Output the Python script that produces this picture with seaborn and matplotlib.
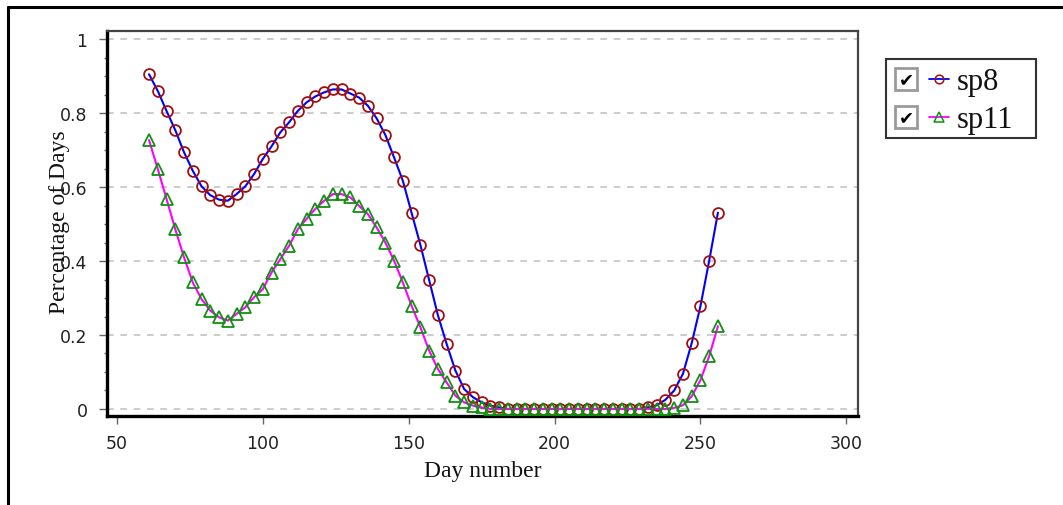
import numpy as np
import pandas as pd
import matplotlib
matplotlib.use("Agg")
import matplotlib.pyplot as plt
from matplotlib.lines import Line2D
from matplotlib.patches import Rectangle
from matplotlib.ticker import MultipleLocator
import seaborn as sns

sns.set_theme(style="white")
plt.rcParams["font.family"] = ["DejaVu Sans"]

# Day of year, one sample every 3 days
days = list(range(61, 257, 3))

sp8 = [0.905, 0.860, 0.806, 0.754, 0.694, 0.644, 0.602, 0.578, 0.566, 0.563,
       0.581, 0.602, 0.635, 0.676, 0.710, 0.748, 0.775, 0.806, 0.829, 0.845,
       0.856, 0.864, 0.864, 0.853, 0.842, 0.820, 0.786, 0.741, 0.680, 0.617,
       0.530, 0.444, 0.349, 0.254, 0.176, 0.104, 0.054, 0.032, 0.018, 0.009,
       0.004,
       0.0, 0.0, 0.0, 0.0, 0.0, 0.0, 0.0, 0.0, 0.0, 0.0, 0.0, 0.0, 0.0, 0.0,
       0.0, 0.0,
       0.004, 0.010, 0.025, 0.050, 0.095, 0.178, 0.278, 0.401, 0.531]

sp11 = [0.727, 0.649, 0.568, 0.486, 0.410, 0.342, 0.297, 0.266, 0.248, 0.239,
        0.257, 0.275, 0.302, 0.324, 0.369, 0.405, 0.441, 0.486, 0.514, 0.541,
        0.563, 0.581, 0.581, 0.572, 0.549, 0.527, 0.491, 0.450, 0.401, 0.342,
        0.279, 0.221, 0.158, 0.108, 0.072, 0.036, 0.018, 0.009, 0.004,
        0.0, 0.0, 0.0, 0.0, 0.0, 0.0, 0.0, 0.0, 0.0, 0.0, 0.0, 0.0, 0.0, 0.0,
        0.0, 0.0, 0.0, 0.0, 0.0, 0.0, 0.0,
        0.003, 0.010, 0.034, 0.078, 0.143, 0.224]

series_names = ["sp8", "sp11"]

df = pd.DataFrame({"day": days, "sp8": sp8, "sp11": sp11})

W, H = 1063, 506
fig = plt.figure(figsize=(W / 100, H / 100), dpi=100)
fig.patch.set_facecolor("white")
ax = fig.add_axes([107 / W, 1 - 417 / H, 751 / W, 385 / H])
ax.set_facecolor("white")

styles = {
    "sp8": dict(color="#0000ff", marker="o", markersize=7.8, mec="#a01010"),
    "sp11": dict(color="#ff00ff", marker="^", markersize=8.8, mec="#109010"),
}

for name in series_names:
    st = styles[name]
    sns.lineplot(
        data=df,
        x="day",
        y=name,
        ax=ax,
        color=st["color"],
        linewidth=1.5,
        marker=st["marker"],
        markersize=st["markersize"],
        markerfacecolor="none",
        markeredgecolor=st["mec"],
        markeredgewidth=1.3,
        clip_on=False,
        zorder=3,
    )

ax.set_xlim(46.6, 304)
ax.set_ylim(-0.019, 1.022)
ax.xaxis.set_major_locator(MultipleLocator(50))
ax.yaxis.set_minor_locator(MultipleLocator(0.05))
ax.set_yticks([0, 0.2, 0.4, 0.6, 0.8, 1.0])
ax.set_yticklabels(["0", "0.2", "0.4", "0.6", "0.8", "1"])

ax.grid(axis="y", which="major", color="#c4c4c4", linestyle=(0, (4, 4)), linewidth=1.2)
ax.grid(axis="x", visible=False)
ax.set_axisbelow(True)

ax.tick_params(axis="both", which="major", direction="out", length=6, width=1,
               color="#666666", labelsize=12.5, labelcolor="#222222")
ax.tick_params(axis="y", which="major", pad=8, left=True)
ax.tick_params(axis="x", which="major", pad=7, bottom=True)
ax.tick_params(axis="y", which="minor", direction="out", length=2.5, width=1,
               color="#666666", left=True)

for side in ["left", "bottom"]:
    ax.spines[side].set_linewidth(2.4)
    ax.spines[side].set_color("black")
for side in ["top", "right"]:
    ax.spines[side].set_linewidth(1.6)
    ax.spines[side].set_color("#444444")

ax.set_xlabel("Day number", family="Liberation Serif", fontsize=17, color="#111111")
ax.set_ylabel("Percentage of Days", family="Liberation Serif", fontsize=17, color="#111111")
ax.xaxis.set_label_coords(0.5, -0.115)
ax.yaxis.set_label_coords(-0.049, 0.505)

# outer frame (left and top lines)
fig.add_artist(Line2D([8 / W, 8 / W], [0, 1 - 8 / H], color="black", lw=2.2))
fig.add_artist(Line2D([8 / W, 1], [1 - 8 / H, 1 - 8 / H], color="black", lw=2.2))

# legend box with check boxes
fig.add_artist(Rectangle((886 / W, 1 - 139 / H), 150 / W, 79 / H, transform=fig.transFigure,
                         facecolor="white", edgecolor="#333333", lw=1.5))
rows = [80, 118]
for name, yc in zip(series_names, rows):
    st = styles[name]
    fig.add_artist(Rectangle((895 / W, 1 - (yc + 11) / H), 22 / W, 22 / H,
                             transform=fig.transFigure, facecolor="white",
                             edgecolor="#9a9a9a", lw=2.0))
    fig.text(906 / W, 1 - yc / H, "\u2714", ha="center", va="center",
             fontsize=13, color="black", family="DejaVu Sans")
    fig.add_artist(Line2D([929 / W, 949 / W], [1 - yc / H, 1 - yc / H],
                          color=st["color"], lw=1.3))
    fig.add_artist(Line2D([939 / W], [1 - yc / H], marker=st["marker"],
                          markersize=st["markersize"] * 0.8, mfc="none",
                          mec=st["mec"], mew=1.1, lw=0))
    fig.text(957 / W, 1 - (yc + 10) / H, name, ha="left", va="baseline",
             fontsize=22, color="#111111", family="Liberation Serif")

fig.savefig("out.png", dpi=100, facecolor="white")
